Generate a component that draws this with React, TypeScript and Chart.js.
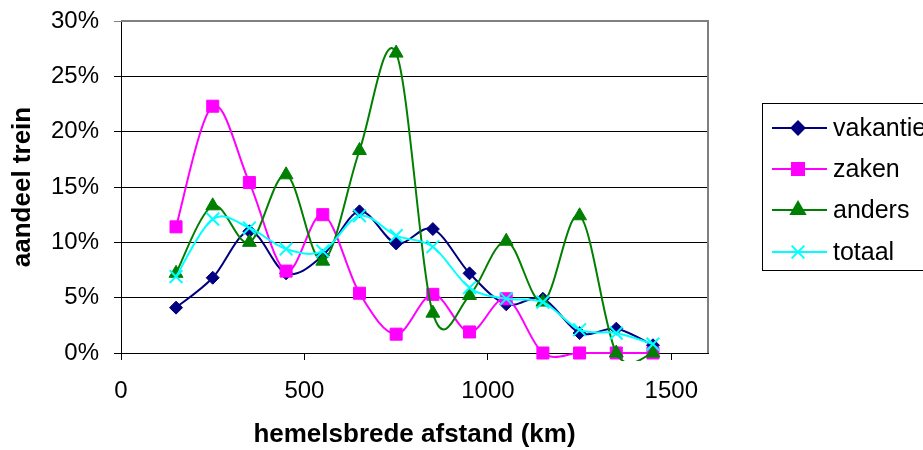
import React, { useEffect, useRef } from "react";
import { Chart, registerables } from "chart.js";
import { drawPoint } from "chart.js/helpers";

Chart.register(...registerables);

const distances = [150, 250, 350, 450, 550, 650, 750, 850, 950, 1050, 1150, 1250, 1350, 1450];
const vakantie = [4.1, 6.8, 11.0, 7.2, 8.8, 12.8, 9.9, 11.2, 7.2, 4.4, 4.9, 1.8, 2.2, 0.7];
const zaken = [11.4, 22.3, 15.4, 7.4, 12.5, 5.4, 1.7, 5.3, 1.9, 4.9, 0, 0, 0, 0];
const anders = [7.2, 13.3, 10.0, 16.1, 8.3, 18.3, 27.1, 3.6, 5.2, 10.1, 4.6, 12.4, 0, 0];
const totaal = [6.9, 12.1, 11.3, 9.4, 9.2, 12.4, 10.6, 9.6, 5.9, 4.9, 4.6, 2.1, 1.8, 0.8];
const seriesNames = ["vakantie", "zaken", "anders", "totaal"];
const xTickValues = [0, 500, 1000, 1500];
const yAxisTitle = "aandeel trein";
const xAxisTitle = "hemelsbrede afstand (km)";

const FONT = "'Liberation Sans', Arial, sans-serif";

const seriesStyles = [
  { color: "#000080", pointStyle: "rectRot", radius: 6.5, fill: "#000080" },
  { color: "#FF00FF", pointStyle: "rect", radius: 8.5, fill: "#FF00FF" },
  { color: "#008000", pointStyle: "triangle", radius: 8, fill: "#008000" },
  { color: "#00FFFF", pointStyle: "crossRot", radius: 9, fill: "#00FFFF" },
];

const toPoints = (vals: number[]) => distances.map((x, i) => ({ x, y: vals[i] }));

// Excel-like smoothing: uniform Catmull-Rom control points (1/6 of neighbour span)
const smoothPlugin = {
  id: "excelSmooth",
  beforeDatasetDraw(chart: any, args: any) {
    const meta = chart.getDatasetMeta(args.index);
    const line = meta.dataset;
    if (!line) return;
    if (typeof line.updateControlPoints === "function") line.updateControlPoints(chart.chartArea, "x");
    const pts = meta.data;
    const n = pts.length;
    for (let i = 0; i < n; i++) {
      const cur = pts[i];
      const prev = pts[i > 0 ? i - 1 : i];
      const next = pts[i < n - 1 ? i + 1 : i];
      const dx = (next.x - prev.x) / 6;
      const dy = (next.y - prev.y) / 6;
      cur.cp1x = cur.x - dx;
      cur.cp1y = cur.y - dy;
      cur.cp2x = cur.x + dx;
      cur.cp2y = cur.y + dy;
    }
    line._path = undefined;
  },
};

const legendPlugin = {
  id: "customLegend",
  afterDraw(chart: any) {
    const ctx = chart.ctx;
    ctx.save();
    ctx.strokeStyle = "#000";
    ctx.lineWidth = 1;
    ctx.strokeRect(762.5, 103.5, 200, 167);
    const rows = [128, 169, 210, 252];
    chart.data.datasets.forEach((ds: any, i: number) => {
      const st = seriesStyles[i];
      const y = rows[i];
      ctx.strokeStyle = st.color;
      ctx.lineWidth = 2;
      ctx.beginPath();
      ctx.moveTo(772, y);
      ctx.lineTo(827, y);
      ctx.stroke();
      ctx.fillStyle = st.fill;
      ctx.strokeStyle = st.color;
      ctx.lineWidth = 2;
      drawPoint(ctx, { pointStyle: st.pointStyle, radius: st.radius, rotation: 0, borderWidth: 2 } as any, 798, y);
      ctx.fillStyle = "#000";
      ctx.font = `25px ${FONT}`;
      ctx.textBaseline = "middle";
      ctx.textAlign = "left";
      ctx.fillText(ds.label, 833, y + 1);
    });
    ctx.restore();
  },
};

const borderPlugin = {
  id: "plotBorder",
  beforeDatasetsDraw(chart: any) {
    const { ctx, chartArea } = chart;
    ctx.save();
    ctx.strokeStyle = "#808080";
    ctx.lineWidth = 2;
    ctx.beginPath();
    ctx.moveTo(chartArea.left, chartArea.top);
    ctx.lineTo(chartArea.right, chartArea.top);
    ctx.lineTo(chartArea.right, chartArea.bottom);
    ctx.stroke();
    ctx.restore();
  },
};

export default function App() {
  const ref = useRef<HTMLCanvasElement | null>(null);
  useEffect(() => {
    if (!ref.current) return;
    const seriesData = [vakantie, zaken, anders, totaal];
    const chart = new Chart(ref.current, {
      type: "line",
      data: {
        datasets: seriesData.map((vals, i) => ({
          label: seriesNames[i],
          data: toPoints(vals),
          borderColor: seriesStyles[i].color,
          backgroundColor: seriesStyles[i].fill,
          pointBackgroundColor: seriesStyles[i].fill,
          pointBorderColor: seriesStyles[i].color,
          pointStyle: seriesStyles[i].pointStyle as any,
          pointRadius: seriesStyles[i].radius,
          pointBorderWidth: i === 3 ? 2 : 1,
          borderWidth: 2,
          tension: 0.35,
          fill: false,
          clip: { left: 5, top: 5, right: 5, bottom: 8 } as any,
          order: 4 - i,
        })),
      },
      options: {
        animation: false,
        responsive: false,
        maintainAspectRatio: false,
        events: [],
        layout: { padding: { left: 0, top: 21, right: 215, bottom: 0 } },
        plugins: { legend: { display: false }, tooltip: { enabled: false } },
        scales: {
          x: {
            type: "linear",
            min: 0,
            max: 1600,
            afterBuildTicks: (scale: any) => {
              scale.ticks = xTickValues.map((v) => ({ value: v }));
            },
            afterFit: (scale: any) => {
              scale.height = 97;
              scale.paddingLeft = 0;
              scale.paddingRight = 0;
            },
            grid: { drawOnChartArea: false, tickLength: 7, color: "#000", lineWidth: 1 },
            border: { display: true, color: "#000", width: 1 },
            ticks: {
              color: "#000",
              padding: 17,
              font: { family: FONT, size: 24 },
              maxRotation: 0,
              callback: (v: any) => String(v),
            },
            title: {
              display: true,
              text: xAxisTitle,
              color: "#000",
              font: { family: FONT, size: 26, weight: "bold" },
              padding: { top: 2, bottom: 0 },
            },
          },
          y: {
            type: "linear",
            min: 0,
            max: 30,
            afterFit: (scale: any) => {
              scale.width = 121;
              scale.paddingTop = 0;
              scale.paddingBottom = 0;
            },
            grid: {
              tickLength: 7,
              color: (c: any) => (c.tick && c.tick.value === 30 ? "#808080" : "#000"),
              lineWidth: 1,
            },
            border: { display: true, color: "#000", width: 1 },
            ticks: {
              stepSize: 5,
              color: "#000",
              padding: 15,
              font: { family: FONT, size: 24 },
              callback: (v: any) => v + "%",
            },
            title: {
              display: true,
              text: yAxisTitle,
              color: "#000",
              font: { family: FONT, size: 26, weight: "bold" },
              padding: { top: 7, bottom: 0 },
            },
          },
        },
      },
      plugins: [borderPlugin, smoothPlugin, legendPlugin],
    });
    return () => chart.destroy();
  }, []);
  return (
    <div style={{ position: "absolute", left: 0, top: 0, width: 923, height: 450, background: "#fff" }}>
      <canvas ref={ref} width={923} height={450} style={{ width: 923, height: 450 }} />
    </div>
  );
}
